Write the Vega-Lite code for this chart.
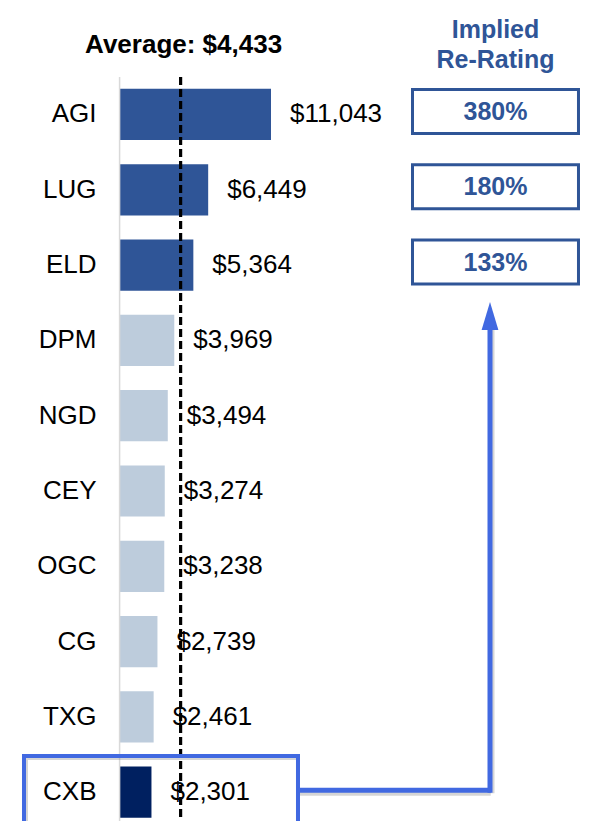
{
  "$schema": "https://vega.github.io/schema/vega-lite/v6.json",
  "width": 470,
  "height": 744,
  "padding": {"left": 120, "top": 77, "right": 0, "bottom": 0},
  "autosize": {"type": "none"},
  "background": "white",
  "config": {"view": {"stroke": null}, "font": "Liberation Sans"},
  "data": {"values": [
    {"company": "AGI", "value": 11043, "group": "top"},
    {"company": "LUG", "value": 6449, "group": "top"},
    {"company": "ELD", "value": 5364, "group": "top"},
    {"company": "DPM", "value": 3969, "group": "mid"},
    {"company": "NGD", "value": 3494, "group": "mid"},
    {"company": "CEY", "value": 3274, "group": "mid"},
    {"company": "OGC", "value": 3238, "group": "mid"},
    {"company": "CG", "value": 2739, "group": "mid"},
    {"company": "TXG", "value": 2461, "group": "mid"},
    {"company": "CXB", "value": 2301, "group": "cxb"}
  ]},
  "layer": [
    {
      "mark": {"type": "bar"},
      "encoding": {
        "y": {
          "field": "company", "type": "nominal",
          "scale": {
            "domain": ["AGI", "LUG", "ELD", "DPM", "NGD", "CEY", "OGC", "CG", "TXG", "CXB"],
            "paddingInner": 0.32, "paddingOuter": 0.1, "align": 0.788
          },
          "axis": {"domain": false, "ticks": false, "labelPadding": 24, "labelFontSize": 26, "labelColor": "#000000", "labelFont": "Liberation Sans", "title": null, "grid": false}
        },
        "x": {"field": "value", "type": "quantitative", "scale": {"domain": [0, 34372], "nice": false, "zero": true}, "axis": null},
        "color": {"field": "group", "type": "nominal", "scale": {"domain": ["top", "mid", "cxb"], "range": ["#2F5597", "#BDCCDC", "#002060"]}, "legend": null}
      }
    },
    {
      "data": {"values": [{"base": -30}]},
      "mark": {"type": "rule", "color": "#d9d9d9", "strokeWidth": 1.5},
      "encoding": {"x": {"field": "base", "type": "quantitative"}}
    },
    {
      "mark": {"type": "text", "align": "left", "baseline": "middle", "dx": 19, "fontSize": 26, "color": "#000000"},
      "encoding": {
        "y": {"field": "company", "type": "nominal"},
        "x": {"field": "value", "type": "quantitative"},
        "text": {"field": "value", "type": "quantitative", "format": "$,.0f"}
      }
    },
    {
      "data": {"values": [{"avg": 4433}]},
      "mark": {"type": "rule", "color": "#000000", "strokeWidth": 3.2, "strokeDash": [8, 4]},
      "encoding": {"x": {"field": "avg", "type": "quantitative"}}
    },
    {
      "data": {"values": [{"company": "CXB", "left": -7021, "right": 13017}]},
      "mark": {"type": "bar", "height": {"band": 1.414}, "fill": "transparent", "stroke": "#888888", "strokeOpacity": 0.35, "strokeWidth": 4, "xOffset": 2, "yOffset": 2},
      "encoding": {
        "y": {"field": "company", "type": "nominal"},
        "x": {"field": "left", "type": "quantitative"},
        "x2": {"field": "right"}
      }
    },
    {
      "data": {"values": [{"company": "CXB", "left": -7021, "right": 13017}]},
      "mark": {"type": "bar", "height": {"band": 1.414}, "fill": "transparent", "stroke": "#4169E1", "strokeWidth": 4},
      "encoding": {
        "y": {"field": "company", "type": "nominal"},
        "x": {"field": "left", "type": "quantitative"},
        "x2": {"field": "right"}
      }
    },
    {
      "data": {"values": [
        {"company": "AGI", "pct": "380%", "left": 21391, "right": 33530},
        {"company": "LUG", "pct": "180%", "left": 21391, "right": 33530},
        {"company": "ELD", "pct": "133%", "left": 21391, "right": 33530}
      ]},
      "mark": {"type": "bar", "height": {"band": 0.86}, "yOffset": -3, "fill": "white", "stroke": "#2F5597", "strokeWidth": 3},
      "encoding": {
        "y": {"field": "company", "type": "nominal"},
        "x": {"field": "left", "type": "quantitative"},
        "x2": {"field": "right"}
      }
    },
    {
      "data": {"values": [
        {"company": "AGI", "pct": "380%", "mid": 27461},
        {"company": "LUG", "pct": "180%", "mid": 27461},
        {"company": "ELD", "pct": "133%", "mid": 27461}
      ]},
      "mark": {"type": "text", "align": "center", "baseline": "middle", "dy": -2.5, "fontSize": 25, "fontWeight": "bold", "color": "#2F5597"},
      "encoding": {
        "y": {"field": "company", "type": "nominal"},
        "x": {"field": "mid", "type": "quantitative"},
        "text": {"field": "pct", "type": "nominal"}
      }
    },
    {
      "data": {"values": [{"company": "CXB", "from": 13017, "to": 27110}]},
      "mark": {"type": "rule", "color": "#888888", "opacity": 0.35, "strokeWidth": 5, "xOffset": 2, "yOffset": 1},
      "encoding": {
        "y": {"field": "company", "type": "nominal"},
        "x": {"field": "from", "type": "quantitative"},
        "x2": {"field": "to"}
      }
    },
    {
      "data": {"values": [{"bottom": "CXB", "top": "ELD", "pos": 27059}]},
      "mark": {"type": "rule", "color": "#888888", "opacity": 0.35, "strokeWidth": 5, "xOffset": 2, "yOffset": 1, "y2Offset": 58},
      "encoding": {
        "y": {"field": "bottom", "type": "nominal"},
        "y2": {"field": "top"},
        "x": {"field": "pos", "type": "quantitative"}
      }
    },
    {
      "data": {"values": [{"company": "CXB", "from": 13017, "to": 27110}]},
      "mark": {"type": "rule", "color": "#4169E1", "strokeWidth": 5, "yOffset": -2},
      "encoding": {
        "y": {"field": "company", "type": "nominal"},
        "x": {"field": "from", "type": "quantitative"},
        "x2": {"field": "to"}
      }
    },
    {
      "data": {"values": [{"bottom": "CXB", "top": "ELD", "pos": 27059}]},
      "mark": {"type": "rule", "color": "#4169E1", "strokeWidth": 5, "yOffset": 0.5, "y2Offset": 58},
      "encoding": {
        "y": {"field": "bottom", "type": "nominal"},
        "y2": {"field": "top"},
        "x": {"field": "pos", "type": "quantitative"}
      }
    },
    {
      "data": {"values": [{"top": "ELD", "pos": 27059}]},
      "mark": {"type": "point", "shape": "M0,-1L0.6,1L-0.6,1Z", "filled": true, "size": 784, "color": "#4169E1", "opacity": 1, "yOffset": 51},
      "encoding": {
        "y": {"field": "top", "type": "nominal"},
        "x": {"field": "pos", "type": "quantitative"}
      }
    },
    {
      "data": {"values": [{"company": "AGI", "avg": 4433}]},
      "mark": {"type": "text", "text": "Average: $4,433", "align": "center", "baseline": "alphabetic", "dx": 3, "dy": -61, "fontSize": 26, "fontWeight": "bold", "color": "#000000"},
      "encoding": {
        "y": {"field": "company", "type": "nominal"},
        "x": {"field": "avg", "type": "quantitative"}
      }
    },
    {
      "data": {"values": [{"company": "AGI", "mid": 27461}]},
      "mark": {"type": "text", "text": ["Implied", "Re-Rating"], "align": "center", "baseline": "alphabetic", "dy": -76.5, "lineHeight": 30, "fontSize": 25, "fontWeight": "bold", "color": "#2F5597"},
      "encoding": {
        "y": {"field": "company", "type": "nominal"},
        "x": {"field": "mid", "type": "quantitative"}
      }
    }
  ]
}
